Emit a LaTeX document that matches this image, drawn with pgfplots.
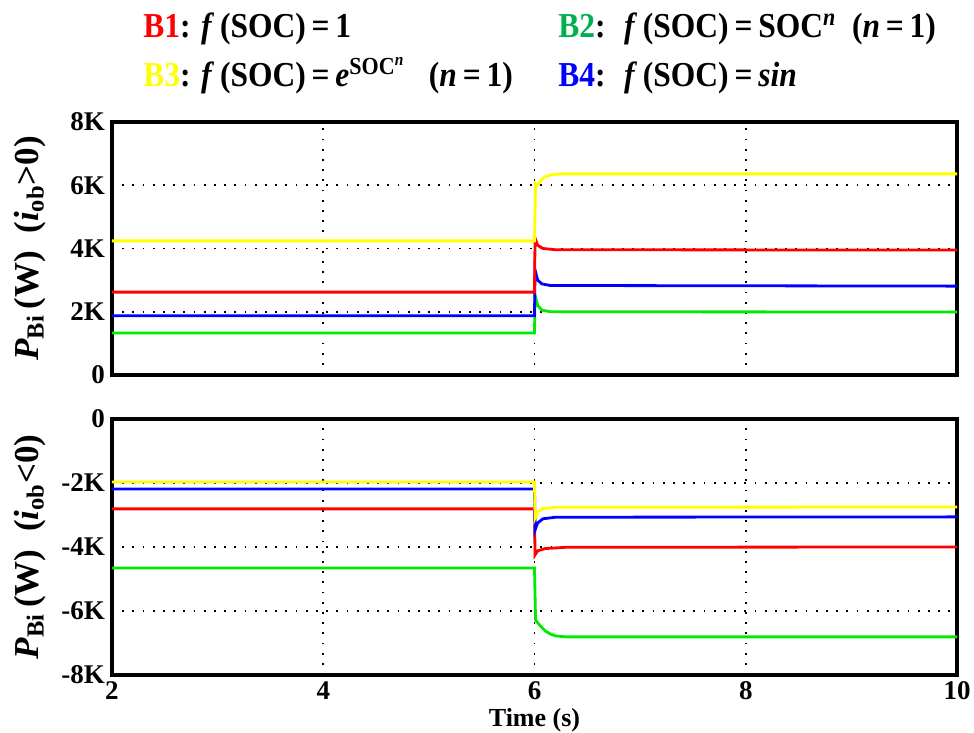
\documentclass[border=0pt]{standalone}
\usepackage{pgfplots}
\pgfplotsset{compat=1.18}
\usepackage{fontspec}
\setmainfont{Liberation Serif}
\newfontfamily\legfont[FakeStretch=0.9]{Liberation Serif}
\definecolor{cyel}{RGB}{255,255,0}
\definecolor{cgrn}{RGB}{0,235,0}
\definecolor{cblu}{RGB}{0,0,255}
\definecolor{cred}{RGB}{255,0,0}
\definecolor{lgrn}{RGB}{0,176,80}
\begin{document}
\begin{tikzpicture}
\pgfplotsset{
  every axis/.style={
    scale only axis, width=422.5pt, height=126.5pt,
    xmin=2, xmax=10, xtick={2,4,6,8,10},
    major tick length=0pt,
    axis line style={line width=1.6pt},
    grid=major, major grid style={black, line width=0.9pt, dash pattern=on 0.9pt off 4.2pt},
    ticklabel style={font=\bfseries\fontsize{13.5}{13.5}\selectfont},
    every axis plot/.append style={line width=1.4pt},
    /pgf/number format/assume math mode=true,
    clip=true,
  }
}
\begin{axis}[name=top,
  ymin=0, ymax=8000, ytick={0,2000,4000,6000,8000},
  yticklabels={\textbf{0},\textbf{2K},\textbf{4K},\textbf{6K},\textbf{8K}},
  xticklabels={},
  ylabel={\bfseries\fontsize{17.5}{17.5}\selectfont\textit{P}\textsubscript{Bi}\,(W)\ \ (\textit{i}\textsubscript{ob}\textgreater0)},
  ylabel style={at={(axis description cs:-0.097,0.5)}, anchor=center, rotate=0},
]
\addplot[cgrn] coordinates {(2,1330)(6,1330)(6.005,2530)(6.03,2200)(6.07,2050)(6.15,2000)(10,1990)};
\addplot[cblu] coordinates {(2,1870)(6,1870)(6.005,3320)(6.03,3000)(6.07,2880)(6.15,2830)(10,2810)};
\addplot[cred] coordinates {(2,2620)(6,2620)(6.005,4330)(6.03,4100)(6.08,4000)(6.2,3960)(10,3950)};
\addplot[cyel] coordinates {(2,4240)(6,4240)(6.01,6050)(6.03,6000)(6.06,6150)(6.1,6270)(6.15,6320)(6.25,6360)(10,6360)};
\end{axis}
\begin{axis}[name=bot,
  at={(top.south west)}, anchor=north west, yshift=-22pt, height=128pt,
  ymin=-8000, ymax=0, ytick={-8000,-6000,-4000,-2000,0},
  yticklabels={\textbf{-8K},\textbf{-6K},\textbf{-4K},\textbf{-2K},\textbf{0}},
  xticklabels={\textbf{2},\textbf{4},\textbf{6},\textbf{8},\textbf{10}},
  xlabel={\bfseries\fontsize{13}{13}\selectfont Time (s)},
  xlabel style={at={(axis description cs:0.5,0)}, anchor=base, yshift=-26pt},
  ylabel={\bfseries\fontsize{17.5}{17.5}\selectfont\textit{P}\textsubscript{Bi}\,(W)\ \ (\textit{i}\textsubscript{ob}\textless0)},
  ylabel style={at={(axis description cs:-0.097,0.5)}, anchor=center, rotate=0},
]
\addplot[cgrn] coordinates {(2,-4660)(6,-4660)(6.01,-6280)(6.05,-6450)(6.1,-6620)(6.15,-6720)(6.2,-6780)(6.3,-6810)(10,-6810)};
\addplot[cred] coordinates {(2,-2810)(6,-2810)(6.005,-4250)(6.03,-4120)(6.1,-4050)(6.3,-4010)(10,-4000)};
\addplot[cblu] coordinates {(2,-2190)(6,-2190)(6.005,-3470)(6.03,-3250)(6.08,-3120)(6.2,-3070)(10,-3060)};
\addplot[cyel] coordinates {(2,-1970)(6,-1970)(6.005,-3100)(6.03,-2900)(6.08,-2800)(6.2,-2760)(10,-2750)};
\end{axis}
\begin{scope}[every node/.style={anchor=base west, inner sep=0pt, font=\legfont\bfseries\fontsize{17.5}{17.5}\selectfont}]
\node at ([xshift=15.5pt, yshift=42pt]top.north west) {\textcolor{cred}{B1}: \textit{f}\,(SOC)\,=\,1};
\node at ([xshift=223pt, yshift=42pt]top.north west) {\textcolor{lgrn}{B2}: \ \textit{f}\,(SOC)\,=\,SOC\textsuperscript{\textit{n}}\ \ (\textit{n}\,=\,1)};
\node at ([xshift=15.5pt, yshift=17.5pt]top.north west) {\textcolor{cyel}{B3}: \textit{f}\,(SOC)\,=\,\textit{e}\textsuperscript{SOC\textsuperscript{\textit{n}}}\ \ \ (\textit{n}\,=\,1)};
\node at ([xshift=223pt, yshift=17.5pt]top.north west) {\textcolor{cblu}{B4}: \ \textit{f}\,(SOC)\,=\,\textit{sin}};
\end{scope}
\pgfresetboundingbox
\path ([xshift=-56pt,yshift=61pt]top.north west) rectangle ([xshift=8.5pt,yshift=-29pt]bot.south east);
\end{tikzpicture}
\end{document}
